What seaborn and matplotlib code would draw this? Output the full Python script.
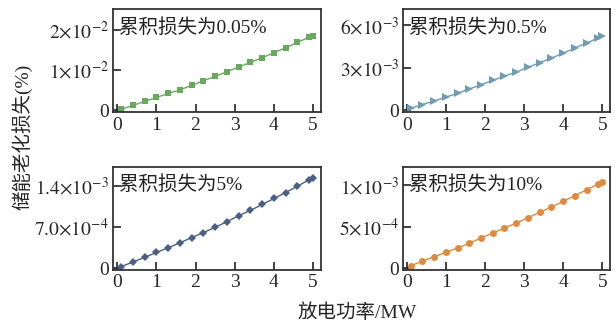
import numpy as np
import pandas as pd
import seaborn as sns
import matplotlib.pyplot as plt

# discharge power (MW)
power = [0.1, 0.4, 0.7, 1.0, 1.3, 1.6, 1.9, 2.2, 2.5, 2.8, 3.1, 3.4, 3.7, 4.0, 4.3, 4.6, 4.9, 5.0]

# aging loss (%) for each cumulative-loss case
loss_005 = [0.0003, 0.00124, 0.00223, 0.00322, 0.00421, 0.00512, 0.0062, 0.00736, 0.00843,
            0.00959, 0.01074, 0.0119, 0.01306, 0.0143, 0.01554, 0.01686, 0.01818, 0.01851]
loss_05 = [0.000136, 0.00041, 0.00066, 0.00093, 0.0012, 0.0015, 0.0018, 0.00211, 0.00241,
           0.0027, 0.00302, 0.00336, 0.00368, 0.00402, 0.00439, 0.00473, 0.00511, 0.00523]
loss_5 = [2.3e-5, 1.02e-4, 1.81e-4, 2.65e-4, 3.44e-4, 4.29e-4, 5.19e-4, 6.04e-4, 6.94e-4,
          7.9e-4, 8.92e-4, 9.82e-4, 1.084e-3, 1.185e-3, 1.287e-3, 1.394e-3, 1.507e-3, 1.53e-3]
loss_10 = [2.7e-5, 8.2e-5, 1.37e-4, 1.88e-4, 2.42e-4, 3.0e-4, 3.63e-4, 4.22e-4, 4.84e-4,
           5.43e-4, 6.09e-4, 6.72e-4, 7.38e-4, 8.05e-4, 8.75e-4, 9.45e-4, 1.016e-3, 1.035e-3]

titles = ['累积损失为0.05%', '累积损失为0.5%', '累积损失为5%', '累积损失为10%']
series = [loss_005, loss_05, loss_5, loss_10]
colors = ['#67AA5E', '#6E9CB2', '#4B5F85', '#E08A3E']
markers = ['s', '>', 'D', 'o']
msizes = [4.5, 5.5, 4, 5]

yticks = [[0, 0.01, 0.02], [0, 0.003, 0.006], [0, 0.0007, 0.0014], [0, 0.0005, 0.001]]
yticklabels = [['0', r'$1{\times}10^{-2}$', r'$2{\times}10^{-2}$'],
               ['0', r'$3{\times}10^{-3}$', r'$6{\times}10^{-3}$'],
               ['0', r'$7.0{\times}10^{-4}$', r'$1.4{\times}10^{-3}$'],
               ['0', r'$5{\times}10^{-4}$', r'$1{\times}10^{-3}$']]
ylims = [(-0.0005, 0.025), (-0.00015, 0.0071), (-3.5e-5, 0.00172), (-2.5e-5, 0.00122)]

sns.set_style('ticks')
plt.rcParams['font.family'] = ['Liberation Serif', 'Noto Sans CJK SC']
plt.rcParams['mathtext.fontset'] = 'stix'
plt.rcParams['font.size'] = 14

fig = plt.figure(figsize=(6.15, 3.27), dpi=100)
positions = [[0.184, 0.656, 0.338, 0.315], [0.655, 0.656, 0.337, 0.315],
             [0.184, 0.174, 0.338, 0.315], [0.655, 0.174, 0.337, 0.315]]

for i in range(4):
    ax = fig.add_axes(positions[i])
    df = pd.DataFrame({'power': power, 'loss': series[i]})
    sns.lineplot(data=df, x='power', y='loss', ax=ax, color=colors[i],
                 marker=markers[i], markersize=msizes[i], markeredgewidth=0,
                 linewidth=1)
    ax.set_xlim(-0.1, 5.2)
    ax.set_ylim(*ylims[i])
    ax.set_xticks([0, 1, 2, 3, 4, 5])
    ax.set_yticks(yticks[i])
    ax.set_yticklabels(yticklabels[i])
    ax.set_xlabel('')
    ax.set_ylabel('')
    ax.tick_params(direction='in', length=6, width=1.2, color='#222222',
                   labelsize=14, pad=3)
    for sp in ax.spines.values():
        sp.set_linewidth(1.3)
        sp.set_color('#333333')
    ax.text(0.03, 0.92, titles[i], transform=ax.transAxes, ha='left', va='top',
            fontsize=14, color='#222222')

fig.text(0.036, 0.58, '储能老化损失(%)', rotation=90, ha='center', va='center', fontsize=14)
fig.text(0.58, 0.043, '放电功率/MW', ha='center', va='center', fontsize=14)

plt.savefig('out.png', dpi=100)
